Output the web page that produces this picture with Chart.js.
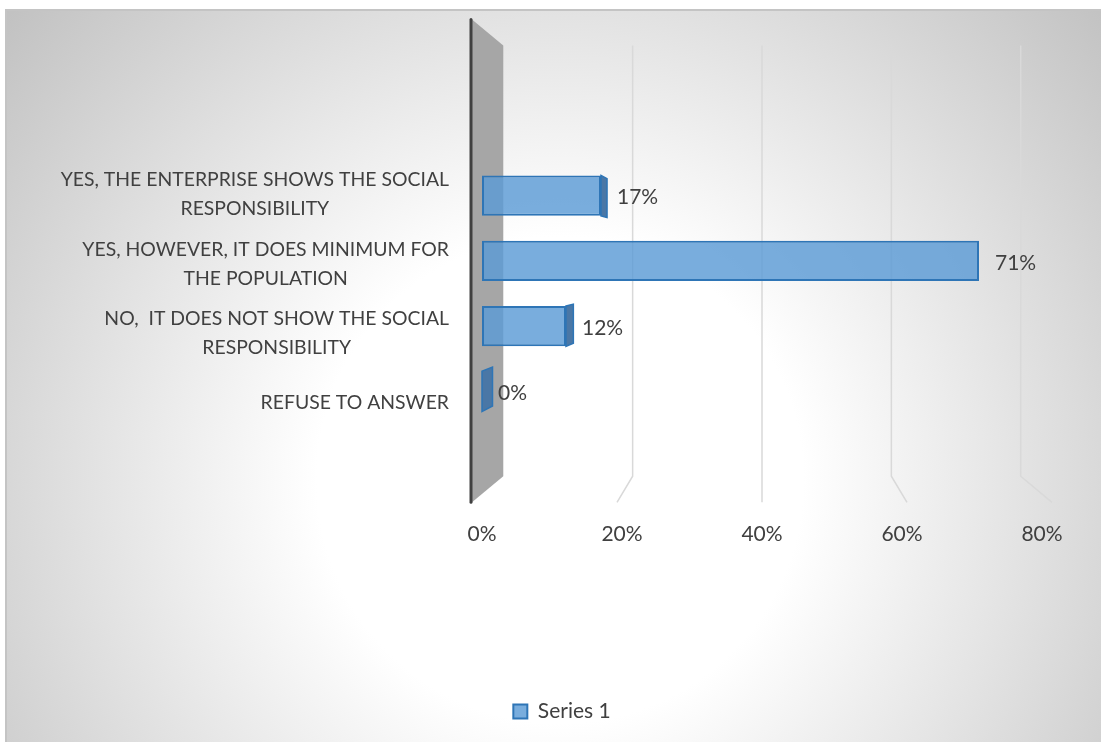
<!DOCTYPE html>
<html>
<head>
<meta charset="utf-8">
<script src="https://cdn.jsdelivr.net/npm/chart.js@4/dist/chart.umd.min.js"></script>
<style>
  html, body { margin: 0; padding: 0; background: #fff; }
  #wrap { width: 1101px; height: 742px; position: relative; }
</style>
</head>
<body>
<div id="wrap"><canvas id="myChart"></canvas></div>
<script>
// chart data
const categories = [
  ["YES, THE ENTERPRISE SHOWS THE SOCIAL", "RESPONSIBILITY"],
  ["YES, HOWEVER, IT DOES MINIMUM FOR", "THE POPULATION"],
  ["NO,  IT DOES NOT SHOW THE SOCIAL", "RESPONSIBILITY"],
  ["REFUSE TO ANSWER"],
];
const series1 = [0.17, 0.71, 0.12, 0];
const seriesName = "Series 1";
const xTickValues = [0, 0.2, 0.4, 0.6, 0.8];

const textColor = "#404040";
const fontFamily = "Lato";

// fake 3d look (ratios)
const FRONT = 1.0357; // bar plane -> front plane
const BACK = 0.924;   // bar plane -> back wall
const BAR_DEPTH = 0.9625;
const WALL_HALF = 0.925;
const BACK_SHRINK = 0.892;

const pct = (v) => Math.round(v * 100) + "%";

const view = (chart) => {
  const a = chart.chartArea;
  const h = a.bottom - a.top;
  return { vx: (a.left + a.right) / 2, vy: a.top + h * 0.375, h };
};

const backgroundPlugin = {
  id: "background",
  beforeDraw(chart) {
    const ctx = chart.ctx;
    const w = chart.width, h = chart.height;
    ctx.save();
    ctx.fillStyle = "#ffffff";
    ctx.fillRect(0, 0, w, h);
    const g = ctx.createRadialGradient(560, 480, 0, 560, 480, 760);
    g.addColorStop(0, "#ffffff");
    g.addColorStop(0.32, "#ffffff");
    g.addColorStop(1, "#bdbdbd");
    ctx.fillStyle = g;
    ctx.fillRect(6, 10, w - 6, h - 10);
    ctx.strokeStyle = "#c4c4c4";
    ctx.lineWidth = 2;
    ctx.beginPath();
    ctx.moveTo(6, h);
    ctx.lineTo(6, 10);
    ctx.lineTo(w, 10);
    ctx.stroke();
    ctx.restore();
  },
};

const wallPlugin = {
  id: "wall",
  beforeDatasetsDraw(chart) {
    const ctx = chart.ctx;
    const x = chart.scales.x;
    const { vx, vy, h } = view(chart);
    const toFront = (px) => vx + (px - vx) * FRONT;
    const toBack = (px) => vx + (px - vx) * BACK;
    const fTop = vy - h * WALL_HALF, fBot = vy + h * WALL_HALF;
    const bTop = vy - h * WALL_HALF * BACK_SHRINK;
    const bBot = vy + h * WALL_HALF * BACK_SHRINK;

    ctx.save();
    // gridlines: back wall + floor
    ctx.strokeStyle = "#d9d9d9";
    ctx.lineWidth = 1.5;
    xTickValues.slice(1).forEach((v) => {
      const px = x.getPixelForValue(v);
      ctx.beginPath();
      ctx.moveTo(toBack(px), bTop);
      ctx.lineTo(toBack(px), bBot);
      ctx.lineTo(toFront(px), fBot);
      ctx.stroke();
    });

    // side wall
    const p0 = x.getPixelForValue(0);
    ctx.fillStyle = "#a6a6a6";
    ctx.beginPath();
    ctx.moveTo(toFront(p0), fTop);
    ctx.lineTo(toBack(p0), bTop);
    ctx.lineTo(toBack(p0), bBot);
    ctx.lineTo(toFront(p0), fBot);
    ctx.closePath();
    ctx.fill();

    ctx.strokeStyle = "#404040";
    ctx.lineWidth = 3;
    ctx.lineCap = "round";
    ctx.beginPath();
    ctx.moveTo(toFront(p0) - 1, fTop);
    ctx.lineTo(toFront(p0) - 1, fBot);
    ctx.stroke();
    ctx.restore();
  },
  afterDatasetsDraw(chart) {
    const ctx = chart.ctx;
    const { vx, vy } = view(chart);
    const meta = chart.getDatasetMeta(0);
    ctx.save();
    meta.data.forEach((el, i) => {
      const top = el.y - el.height / 2;
      const bot = el.y + el.height / 2;
      if (el.x < vx) {
        const bx = vx + (el.x - vx) * BAR_DEPTH;
        const bt = vy + (top - vy) * BAR_DEPTH;
        const bb = vy + (bot - vy) * BAR_DEPTH;
        ctx.fillStyle = "#4a77a6";
        ctx.strokeStyle = "#2e75b6";
        ctx.lineWidth = 1.5;
        ctx.beginPath();
        ctx.moveTo(el.x, top);
        ctx.lineTo(bx, bt);
        ctx.lineTo(bx, bb);
        ctx.lineTo(el.x, bot);
        ctx.closePath();
        ctx.fill();
        ctx.stroke();
      }
      // value label
      ctx.fillStyle = textColor;
      ctx.font = "21px " + fontFamily;
      ctx.textAlign = "left";
      ctx.textBaseline = "middle";
      ctx.fillText(pct(series1[i]), el.x + 16, el.y + 2);
    });
    ctx.restore();
  },
};

// category labels: block right aligned, lines centred inside the block
const categoryLabelPlugin = {
  id: "categoryLabels",
  afterDraw(chart) {
    const ctx = chart.ctx;
    const y = chart.scales.y;
    const { vy } = view(chart);
    const right = chart.chartArea.left - 33;
    ctx.save();
    ctx.font = "19.4px " + fontFamily;
    ctx.fillStyle = textColor;
    ctx.textAlign = "center";
    ctx.textBaseline = "middle";
    categories.forEach((lines, i) => {
      const py = y.getPixelForValue(i);
      const yc = vy + (py - vy) * 1.066 + 3;
      const w = Math.max(...lines.map((l) => ctx.measureText(l).width));
      lines.forEach((l, j) => {
        ctx.fillText(l, right - w / 2, yc + (j - (lines.length - 1) / 2) * 29);
      });
    });
    ctx.restore();
  },
};

Chart.defaults.font.family = fontFamily;
Chart.defaults.color = textColor;

const ctx = document.getElementById("myChart").getContext("2d");

window.myChart = new Chart(ctx, {
  type: "bar",
  data: {
    labels: categories,
    datasets: [
      {
        label: seriesName,
        data: series1,
        backgroundColor: "rgba(91,155,213,0.82)",
        borderColor: "#2e75b6",
        borderWidth: 2,
        borderSkipped: false,
        categoryPercentage: 0.62,
        barPercentage: 1,
      },
    ],
  },
  options: {
    indexAxis: "y",
    responsive: true,
    maintainAspectRatio: false,
    devicePixelRatio: 1,
    animation: false,
    layout: {
      padding: { top: 163, left: 82, right: 59, bottom: 10 },
    },
    scales: {
      x: {
        min: 0,
        max: 0.8,
        afterBuildTicks: (scale) => {
          scale.ticks = xTickValues.map((v) => ({ value: v }));
        },
        afterFit: (scale) => {
          scale.height = 267;
          scale.paddingLeft = 0;
          scale.paddingRight = 0;
        },
        grid: { display: false, drawTicks: false },
        border: { display: false },
        ticks: {
          padding: 98,
          color: textColor,
          font: { size: 21 },
          callback: (v) => pct(v),
        },
      },
      y: {
        afterFit: (scale) => {
          scale.width = 400;
        },
        grid: { display: false },
        border: { display: false },
        ticks: { display: false },
      },
    },
    plugins: {
      legend: {
        position: "bottom",
        labels: {
          boxWidth: 14,
          boxHeight: 14,
          color: textColor,
          font: { size: 21 },
        },
      },
      tooltip: { enabled: false },
    },
  },
  plugins: [backgroundPlugin, wallPlugin, categoryLabelPlugin],
});
</script>
</body>
</html>
